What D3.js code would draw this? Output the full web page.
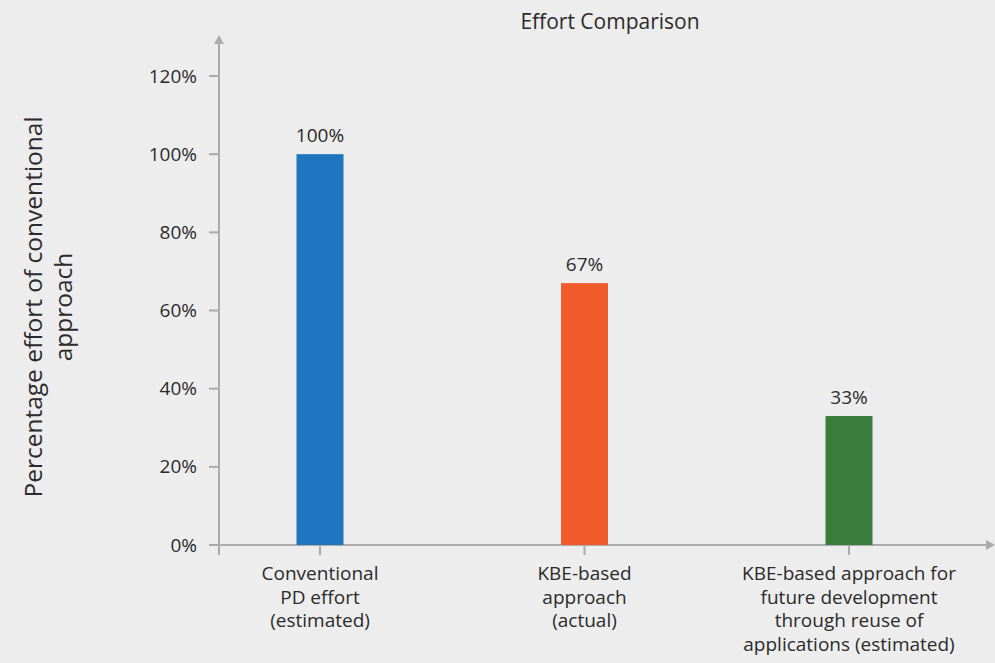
<!DOCTYPE html>
<html>
<head>
<meta charset="utf-8">
<script src="https://cdnjs.cloudflare.com/ajax/libs/d3/7.8.5/d3.min.js"></script>
<style>
  body { margin: 0; background: #ededed; }
  text { font-family: "Open Sans", "Noto Sans", sans-serif; fill: #2b2b2b; }
</style>
</head>
<body>
<script>
var categories = [
  ["Conventional", "PD effort", "(estimated)"],
  ["KBE-based", "approach", "(actual)"],
  ["KBE-based approach for", "future development", "through reuse of", "applications (estimated)"]
];
var values = [100, 67, 33];
var barColors = ["#1f75c0", "#f15a2b", "#3b7d3c"];
var yTicks = [0, 20, 40, 60, 80, 100, 120];

var width = 995, height = 663;
var axisX = 219, baseY = 545;

var svg = d3.select("body").append("svg")
  .attr("width", width)
  .attr("height", height);

svg.append("rect").attr("width", width).attr("height", height).attr("fill", "#ededed");

var x = d3.scalePoint()
  .domain(d3.range(categories.length))
  .range([320, 849]);
var y = d3.scaleLinear()
  .domain([0, 120])
  .range([baseY, 76]);
var barW = 47;

// axes with arrow heads
var axisColor = "#ababab";
svg.append("line")
  .attr("x1", axisX).attr("x2", axisX)
  .attr("y1", baseY + 10).attr("y2", 42)
  .attr("stroke", axisColor).attr("stroke-width", 2);
svg.append("path")
  .attr("d", "M" + (axisX - 5) + ",44 L" + axisX + ",35 L" + (axisX + 5) + ",44 Z")
  .attr("fill", axisColor);
svg.append("line")
  .attr("x1", axisX - 10).attr("x2", 988)
  .attr("y1", baseY).attr("y2", baseY)
  .attr("stroke", axisColor).attr("stroke-width", 2);
svg.append("path")
  .attr("d", "M986," + (baseY - 5) + " L995," + baseY + " L986," + (baseY + 5) + " Z")
  .attr("fill", axisColor);

// y ticks
var yt = svg.append("g");
yt.selectAll("line").data(yTicks).enter().append("line")
  .attr("x1", axisX - 10).attr("x2", axisX)
  .attr("y1", function(d) { return y(d); })
  .attr("y2", function(d) { return y(d); })
  .attr("stroke", axisColor).attr("stroke-width", 2);
yt.selectAll("text").data(yTicks).enter().append("text")
  .attr("x", axisX - 22)
  .attr("y", function(d) { return y(d); })
  .attr("dy", "0.35em")
  .attr("text-anchor", "end")
  .attr("font-size", 19)
  .text(function(d) { return d + "%"; });

// x ticks
svg.append("g").selectAll("line").data(values).enter().append("line")
  .attr("x1", function(d, i) { return x(i); })
  .attr("x2", function(d, i) { return x(i); })
  .attr("y1", baseY).attr("y2", baseY + 10)
  .attr("stroke", axisColor).attr("stroke-width", 2);

// bars
svg.append("g").selectAll("rect").data(values).enter().append("rect")
  .attr("x", function(d, i) { return x(i) - barW / 2; })
  .attr("y", function(d) { return y(d); })
  .attr("width", barW)
  .attr("height", function(d) { return baseY - y(d); })
  .attr("fill", function(d, i) { return barColors[i]; });

// value labels
svg.append("g").selectAll("text").data(values).enter().append("text")
  .attr("x", function(d, i) { return x(i); })
  .attr("y", function(d) { return y(d) - 12; })
  .attr("text-anchor", "middle")
  .attr("font-size", 19)
  .text(function(d) { return d + "%"; });

// category labels
var cl = svg.append("g").selectAll("text").data(categories).enter().append("text")
  .attr("text-anchor", "middle")
  .attr("font-size", 19);
cl.selectAll("tspan").data(function(d, i) { return d.map(function(s) { return {s: s, i: i}; }); })
  .enter().append("tspan")
  .attr("x", function(d) { return x(d.i); })
  .attr("y", function(d, j) { return 580 + j * 23.7; })
  .text(function(d) { return d.s; });

// title
svg.append("text")
  .attr("x", 610).attr("y", 29)
  .attr("text-anchor", "middle")
  .attr("font-size", 21)
  .text("Effort Comparison");

// y axis title
var yl = svg.append("text")
  .attr("transform", "translate(0,307) rotate(-90)")
  .attr("text-anchor", "middle")
  .attr("font-size", 24.5);
yl.append("tspan").attr("x", 0).attr("y", 42).text("Percentage effort of conventional");
yl.append("tspan").attr("x", 0).attr("y", 72).text("approach");
</script>
</body>
</html>
